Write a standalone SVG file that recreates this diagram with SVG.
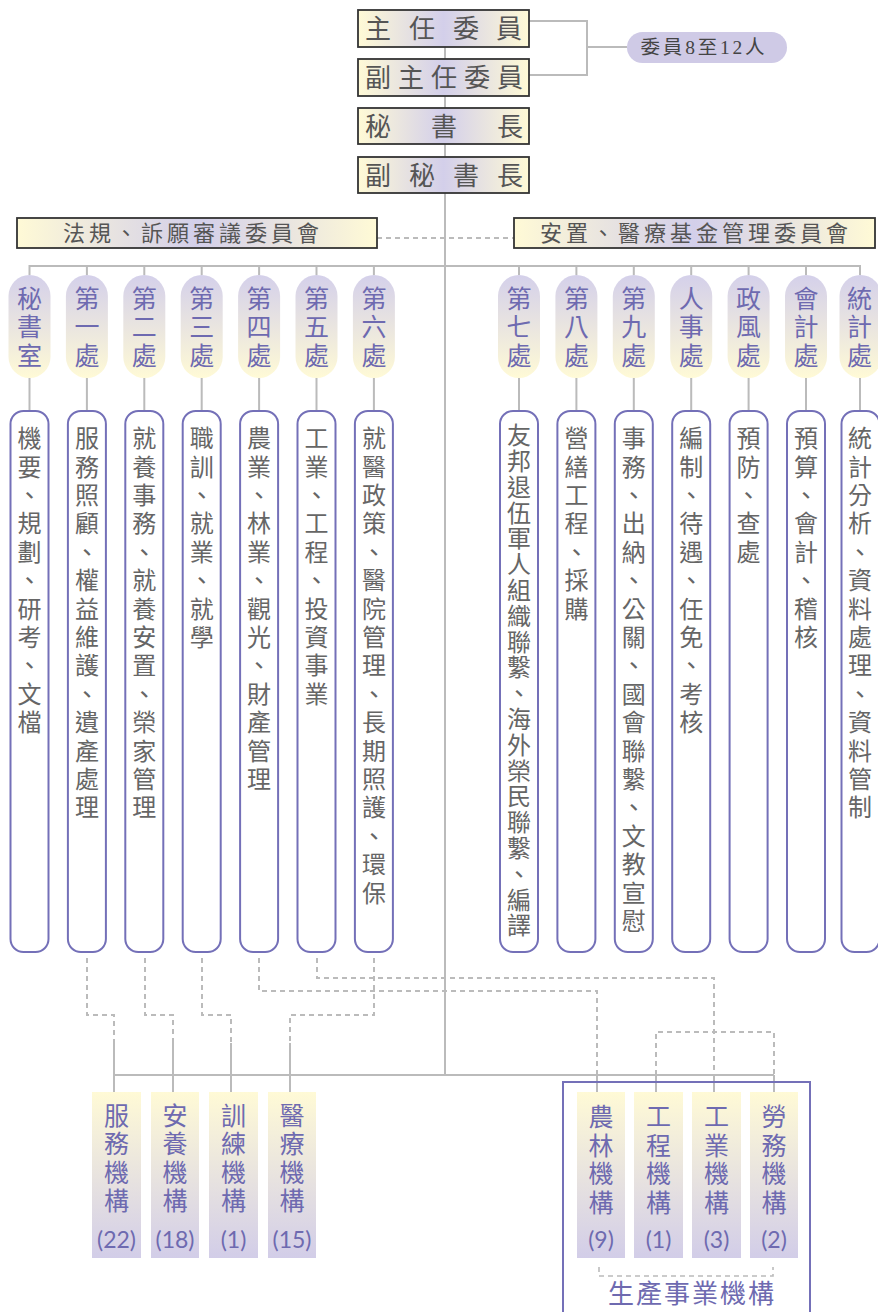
<svg xmlns="http://www.w3.org/2000/svg" width="878" height="1312" viewBox="0 0 878 1312">
<defs>
<linearGradient id="hg" x1="0" y1="0" x2="1" y2="0">
<stop offset="0" stop-color="#fffad6"/><stop offset="0.5" stop-color="#d3cfea"/><stop offset="1" stop-color="#fffad6"/>
</linearGradient>
<linearGradient id="tg" x1="0" y1="0" x2="0" y2="1">
<stop offset="0" stop-color="#d4d0ea"/><stop offset="1" stop-color="#fffad6"/>
</linearGradient>
<linearGradient id="bg" x1="0" y1="0" x2="0" y2="1">
<stop offset="0" stop-color="#fffad6"/><stop offset="1" stop-color="#d2cde8"/>
</linearGradient>
</defs>
<style>
.ln{fill:none;stroke:#bbbbbb;stroke-width:2}
.ds{fill:none;stroke:#bbbbbb;stroke-width:2;stroke-dasharray:5 4}
.top{fill:url(#hg);stroke:#333;stroke-width:1.8}
.tt{font-family:"Noto Sans CJK TC","Noto Sans CJK SC",sans-serif;font-size:26px;fill:#555;text-anchor:middle}
.ct{font-family:"Noto Sans CJK TC",sans-serif;font-size:22px;fill:#555;letter-spacing:4px}
.tab{fill:url(#tg)}
.v{writing-mode:vertical-rl;font-family:"Noto Sans CJK TC",sans-serif}
.tabt{font-size:25px;fill:#6e6ab0}
.col{fill:#fff;stroke:#7470b8;stroke-width:2}
.colt{font-size:24px;fill:#666}
.bx{fill:url(#bg)}
.bt{font-size:25px;fill:#6e6ab0}
.num{font-family:Lato,"Open Sans",sans-serif;font-size:23px;fill:#6e6ab0;text-anchor:middle}
</style>
<g id="connectors">
<path class="ln" d="M445 47 V1075"/>
<path class="ln" d="M529 21 H587 V75 H529 M587 47 H627"/>
<path class="ds" d="M377 238 H514"/>
<path class="ln" d="M29.5 275 V266 H860 V275"/>
<path class="ln" d="M86.9 266 V275 M144.3 266 V275 M201.7 266 V275 M259.1 266 V275 M316.5 266 V275 M373.9 266 V275 M519 266 V275 M576.4 266 V275 M633.8 266 V275 M691.2 266 V275 M748.6 266 V275 M806 266 V275"/>
<path class="ln" d="M29.5 378 V411 M86.9 378 V411 M144.3 378 V411 M201.7 378 V411 M259.1 378 V411 M316.5 378 V411 M373.9 378 V411 M519 378 V411 M576.4 378 V411 M633.8 378 V411 M691.2 378 V411 M748.6 378 V411 M806 378 V411 M860 378 V411"/>
<path class="ds" d="M87 958 V1015 H114 V1043"/>
<path class="ds" d="M145 958 V1015 H173 V1043"/>
<path class="ds" d="M202 958 V1015 H231 V1043"/>
<path class="ds" d="M374 958 V1015 H290 V1043"/>
<path class="ds" d="M259 958 V991 H597 V1075"/>
<path class="ds" d="M317 958 V978 H714 V1075"/>
<path class="ds" d="M656 1075 V1032 H774 V1075"/>
<path class="ln" d="M114 1075 H774"/>
<path class="ln" d="M114 1043 V1092 M173 1043 V1092 M231 1043 V1092 M290 1043 V1092 M597 1075 V1092 M656 1075 V1092 M714 1075 V1092 M774 1075 V1092"/>
<path class="ds" style="stroke-width:1.6" d="M599 1267 V1276 H773 V1267"/>
</g>
<g id="n-chair"><rect class="top" x="358" y="10" width="171" height="37"/><text class="tt" x="378 422 466 509" y="38">主任委員</text></g>
<g id="n-vice"><rect class="top" x="358" y="59" width="171" height="37"/><text class="tt" x="378 411 444 477 510" y="87">副主任委員</text></g>
<g id="n-sec"><rect class="top" x="358" y="108" width="171" height="36"/><text class="tt" x="378 444 510" y="136">秘書長</text></g>
<g id="n-dsec"><rect class="top" x="358" y="157" width="171" height="36"/><text class="tt" x="378 422 466 510" y="185">副秘書長</text></g>
<g id="n-members"><rect x="627" y="32" width="160" height="31" rx="15.5" fill="#cfcae6"/><text x="704" y="54" font-family="'Liberation Serif','Noto Sans CJK TC',serif" font-size="19.5" fill="#444" letter-spacing="2.8" text-anchor="middle">委員8至12人</text></g>
<g id="n-law"><rect class="top" x="17" y="218" width="360" height="30"/><text class="ct" x="63" y="241">法規、訴願審議委員會</text></g>
<g id="n-fund"><rect class="top" x="514" y="218" width="361" height="30"/><text class="ct" x="540" y="241">安置、醫療基金管理委員會</text></g>
<g id="tabs">
<g id="t1"><rect class="tab" x="8.5" y="275" width="42" height="103" rx="21"/><text class="v tabt" x="29.5"><tspan y="285.5">秘</tspan><tspan y="314">書</tspan><tspan y="342.5">室</tspan></text></g>
<g id="t2"><rect class="tab" x="65.9" y="275" width="42" height="103" rx="21"/><text class="v tabt" x="86.9"><tspan y="285.5">第</tspan><tspan y="314">一</tspan><tspan y="342.5">處</tspan></text></g>
<g id="t3"><rect class="tab" x="123.3" y="275" width="42" height="103" rx="21"/><text class="v tabt" x="144.3"><tspan y="285.5">第</tspan><tspan y="314">二</tspan><tspan y="342.5">處</tspan></text></g>
<g id="t4"><rect class="tab" x="180.7" y="275" width="42" height="103" rx="21"/><text class="v tabt" x="201.7"><tspan y="285.5">第</tspan><tspan y="314">三</tspan><tspan y="342.5">處</tspan></text></g>
<g id="t5"><rect class="tab" x="238.1" y="275" width="42" height="103" rx="21"/><text class="v tabt" x="259.1"><tspan y="285.5">第</tspan><tspan y="314">四</tspan><tspan y="342.5">處</tspan></text></g>
<g id="t6"><rect class="tab" x="295.5" y="275" width="42" height="103" rx="21"/><text class="v tabt" x="316.5"><tspan y="285.5">第</tspan><tspan y="314">五</tspan><tspan y="342.5">處</tspan></text></g>
<g id="t7"><rect class="tab" x="352.9" y="275" width="42" height="103" rx="21"/><text class="v tabt" x="373.9"><tspan y="285.5">第</tspan><tspan y="314">六</tspan><tspan y="342.5">處</tspan></text></g>
<g id="t8"><rect class="tab" x="498" y="275" width="42" height="103" rx="21"/><text class="v tabt" x="519"><tspan y="285.5">第</tspan><tspan y="314">七</tspan><tspan y="342.5">處</tspan></text></g>
<g id="t9"><rect class="tab" x="555.4" y="275" width="42" height="103" rx="21"/><text class="v tabt" x="576.4"><tspan y="285.5">第</tspan><tspan y="314">八</tspan><tspan y="342.5">處</tspan></text></g>
<g id="t10"><rect class="tab" x="612.8" y="275" width="42" height="103" rx="21"/><text class="v tabt" x="633.8"><tspan y="285.5">第</tspan><tspan y="314">九</tspan><tspan y="342.5">處</tspan></text></g>
<g id="t11"><rect class="tab" x="670.2" y="275" width="42" height="103" rx="21"/><text class="v tabt" x="691.2"><tspan y="285.5">人</tspan><tspan y="314">事</tspan><tspan y="342.5">處</tspan></text></g>
<g id="t12"><rect class="tab" x="727.6" y="275" width="42" height="103" rx="21"/><text class="v tabt" x="748.6"><tspan y="285.5">政</tspan><tspan y="314">風</tspan><tspan y="342.5">處</tspan></text></g>
<g id="t13"><rect class="tab" x="785" y="275" width="42" height="103" rx="21"/><text class="v tabt" x="806"><tspan y="285.5">會</tspan><tspan y="314">計</tspan><tspan y="342.5">處</tspan></text></g>
<g id="t14"><rect class="tab" x="839.5" y="275" width="42" height="103" rx="21"/><text class="v tabt" x="859.5"><tspan y="285.5">統</tspan><tspan y="314">計</tspan><tspan y="342.5">處</tspan></text></g>
</g>
<g id="cols">
<g id="c1"><rect class="col" x="10.5" y="411" width="38" height="541" rx="13"/><text class="v colt" x="29.5"><tspan y="426">機</tspan><tspan y="454.4">要</tspan><tspan y="482.8">、</tspan><tspan y="511.2">規</tspan><tspan y="539.6">劃</tspan><tspan y="568">、</tspan><tspan y="596.4">研</tspan><tspan y="624.8">考</tspan><tspan y="653.2">、</tspan><tspan y="681.6">文</tspan><tspan y="710">檔</tspan></text></g>
<g id="c2"><rect class="col" x="67.9" y="411" width="38" height="541" rx="13"/><text class="v colt" x="86.9"><tspan y="426">服</tspan><tspan y="454.4">務</tspan><tspan y="482.8">照</tspan><tspan y="511.2">顧</tspan><tspan y="539.6">、</tspan><tspan y="568">權</tspan><tspan y="596.4">益</tspan><tspan y="624.8">維</tspan><tspan y="653.2">護</tspan><tspan y="681.6">、</tspan><tspan y="710">遺</tspan><tspan y="738.4">產</tspan><tspan y="766.8">處</tspan><tspan y="795.2">理</tspan></text></g>
<g id="c3"><rect class="col" x="125.3" y="411" width="38" height="541" rx="13"/><text class="v colt" x="144.3"><tspan y="426">就</tspan><tspan y="454.4">養</tspan><tspan y="482.8">事</tspan><tspan y="511.2">務</tspan><tspan y="539.6">、</tspan><tspan y="568">就</tspan><tspan y="596.4">養</tspan><tspan y="624.8">安</tspan><tspan y="653.2">置</tspan><tspan y="681.6">、</tspan><tspan y="710">榮</tspan><tspan y="738.4">家</tspan><tspan y="766.8">管</tspan><tspan y="795.2">理</tspan></text></g>
<g id="c4"><rect class="col" x="182.7" y="411" width="38" height="541" rx="13"/><text class="v colt" x="201.7"><tspan y="426">職</tspan><tspan y="454.4">訓</tspan><tspan y="482.8">、</tspan><tspan y="511.2">就</tspan><tspan y="539.6">業</tspan><tspan y="568">、</tspan><tspan y="596.4">就</tspan><tspan y="624.8">學</tspan></text></g>
<g id="c5"><rect class="col" x="240.1" y="411" width="38" height="541" rx="13"/><text class="v colt" x="259.1"><tspan y="426">農</tspan><tspan y="454.4">業</tspan><tspan y="482.8">、</tspan><tspan y="511.2">林</tspan><tspan y="539.6">業</tspan><tspan y="568">、</tspan><tspan y="596.4">觀</tspan><tspan y="624.8">光</tspan><tspan y="653.2">、</tspan><tspan y="681.6">財</tspan><tspan y="710">產</tspan><tspan y="738.4">管</tspan><tspan y="766.8">理</tspan></text></g>
<g id="c6"><rect class="col" x="297.5" y="411" width="38" height="541" rx="13"/><text class="v colt" x="316.5"><tspan y="426">工</tspan><tspan y="454.4">業</tspan><tspan y="482.8">、</tspan><tspan y="511.2">工</tspan><tspan y="539.6">程</tspan><tspan y="568">、</tspan><tspan y="596.4">投</tspan><tspan y="624.8">資</tspan><tspan y="653.2">事</tspan><tspan y="681.6">業</tspan></text></g>
<g id="c7"><rect class="col" x="354.9" y="411" width="38" height="541" rx="13"/><text class="v colt" x="373.9"><tspan y="426">就</tspan><tspan y="454.4">醫</tspan><tspan y="482.8">政</tspan><tspan y="511.2">策</tspan><tspan y="539.6">、</tspan><tspan y="568">醫</tspan><tspan y="596.4">院</tspan><tspan y="624.8">管</tspan><tspan y="653.2">理</tspan><tspan y="681.6">、</tspan><tspan y="710">長</tspan><tspan y="738.4">期</tspan><tspan y="766.8">照</tspan><tspan y="795.2">護</tspan><tspan y="823.6">、</tspan><tspan y="852">環</tspan><tspan y="880.4">保</tspan></text></g>
<g id="c8"><rect class="col" x="500" y="411" width="38" height="541" rx="13"/><text class="v colt" x="519"><tspan y="423">友</tspan><tspan y="448.8">邦</tspan><tspan y="474.6">退</tspan><tspan y="500.4">伍</tspan><tspan y="526.2">軍</tspan><tspan y="552">人</tspan><tspan y="577.8">組</tspan><tspan y="603.6">織</tspan><tspan y="629.4">聯</tspan><tspan y="655.2">繫</tspan><tspan y="681">、</tspan><tspan y="706.8">海</tspan><tspan y="732.6">外</tspan><tspan y="758.4">榮</tspan><tspan y="784.2">民</tspan><tspan y="810">聯</tspan><tspan y="835.8">繫</tspan><tspan y="861.6">、</tspan><tspan y="887.4">編</tspan><tspan y="913.2">譯</tspan></text></g>
<g id="c9"><rect class="col" x="557.4" y="411" width="38" height="541" rx="13"/><text class="v colt" x="576.4"><tspan y="426">營</tspan><tspan y="454.4">繕</tspan><tspan y="482.8">工</tspan><tspan y="511.2">程</tspan><tspan y="539.6">、</tspan><tspan y="568">採</tspan><tspan y="596.4">購</tspan></text></g>
<g id="c10"><rect class="col" x="614.8" y="411" width="38" height="541" rx="13"/><text class="v colt" x="633.8"><tspan y="426">事</tspan><tspan y="454.4">務</tspan><tspan y="482.8">、</tspan><tspan y="511.2">出</tspan><tspan y="539.6">納</tspan><tspan y="568">、</tspan><tspan y="596.4">公</tspan><tspan y="624.8">關</tspan><tspan y="653.2">、</tspan><tspan y="681.6">國</tspan><tspan y="710">會</tspan><tspan y="738.4">聯</tspan><tspan y="766.8">繫</tspan><tspan y="795.2">、</tspan><tspan y="823.6">文</tspan><tspan y="852">教</tspan><tspan y="880.4">宣</tspan><tspan y="908.8">慰</tspan></text></g>
<g id="c11"><rect class="col" x="672.2" y="411" width="38" height="541" rx="13"/><text class="v colt" x="691.2"><tspan y="426">編</tspan><tspan y="454.4">制</tspan><tspan y="482.8">、</tspan><tspan y="511.2">待</tspan><tspan y="539.6">遇</tspan><tspan y="568">、</tspan><tspan y="596.4">任</tspan><tspan y="624.8">免</tspan><tspan y="653.2">、</tspan><tspan y="681.6">考</tspan><tspan y="710">核</tspan></text></g>
<g id="c12"><rect class="col" x="729.6" y="411" width="38" height="541" rx="13"/><text class="v colt" x="748.6"><tspan y="426">預</tspan><tspan y="454.4">防</tspan><tspan y="482.8">、</tspan><tspan y="511.2">查</tspan><tspan y="539.6">處</tspan></text></g>
<g id="c13"><rect class="col" x="787" y="411" width="38" height="541" rx="13"/><text class="v colt" x="806"><tspan y="426">預</tspan><tspan y="454.4">算</tspan><tspan y="482.8">、</tspan><tspan y="511.2">會</tspan><tspan y="539.6">計</tspan><tspan y="568">、</tspan><tspan y="596.4">稽</tspan><tspan y="624.8">核</tspan></text></g>
<g id="c14"><rect class="col" x="841.5" y="411" width="38" height="541" rx="13"/><text class="v colt" x="860"><tspan y="426">統</tspan><tspan y="454.4">計</tspan><tspan y="482.8">分</tspan><tspan y="511.2">析</tspan><tspan y="539.6">、</tspan><tspan y="568">資</tspan><tspan y="596.4">料</tspan><tspan y="624.8">處</tspan><tspan y="653.2">理</tspan><tspan y="681.6">、</tspan><tspan y="710">資</tspan><tspan y="738.4">料</tspan><tspan y="766.8">管</tspan><tspan y="795.2">制</tspan></text></g>
</g>
<g id="bottom">
<g id="b1"><rect class="bx" x="92" y="1092" width="49" height="166"/><text class="v bt" x="116.5"><tspan y="1102.5">服</tspan><tspan y="1131">務</tspan><tspan y="1159.5">機</tspan><tspan y="1188">構</tspan></text><text class="num" x="116.5" y="1248">(22)</text></g>
<g id="b2"><rect class="bx" x="151" y="1092" width="48" height="166"/><text class="v bt" x="175"><tspan y="1102.5">安</tspan><tspan y="1131">養</tspan><tspan y="1159.5">機</tspan><tspan y="1188">構</tspan></text><text class="num" x="175" y="1248">(18)</text></g>
<g id="b3"><rect class="bx" x="209" y="1092" width="49" height="166"/><text class="v bt" x="233.5"><tspan y="1102.5">訓</tspan><tspan y="1131">練</tspan><tspan y="1159.5">機</tspan><tspan y="1188">構</tspan></text><text class="num" x="233.5" y="1248">(1)</text></g>
<g id="b4"><rect class="bx" x="268" y="1092" width="48" height="166"/><text class="v bt" x="292"><tspan y="1102.5">醫</tspan><tspan y="1131">療</tspan><tspan y="1159.5">機</tspan><tspan y="1188">構</tspan></text><text class="num" x="292" y="1248">(15)</text></g>
<g id="prod"><rect x="563" y="1082" width="247" height="240" fill="none" stroke="#7470b8" stroke-width="2"/>
<text x="692" y="1303" font-family="'Noto Sans CJK TC',sans-serif" font-size="26" fill="#6e6ab0" letter-spacing="2" text-anchor="middle">生產事業機構</text></g>
<g id="b5"><rect class="bx" x="577" y="1092" width="48" height="166"/><text class="v bt" x="601"><tspan y="1104">農</tspan><tspan y="1132.5">林</tspan><tspan y="1161">機</tspan><tspan y="1189.5">構</tspan></text><text class="num" x="601" y="1248">(9)</text></g>
<g id="b6"><rect class="bx" x="634" y="1092" width="49" height="166"/><text class="v bt" x="658.5"><tspan y="1104">工</tspan><tspan y="1132.5">程</tspan><tspan y="1161">機</tspan><tspan y="1189.5">構</tspan></text><text class="num" x="658.5" y="1248">(1)</text></g>
<g id="b7"><rect class="bx" x="692" y="1092" width="49" height="166"/><text class="v bt" x="716.5"><tspan y="1104">工</tspan><tspan y="1132.5">業</tspan><tspan y="1161">機</tspan><tspan y="1189.5">構</tspan></text><text class="num" x="716.5" y="1248">(3)</text></g>
<g id="b8"><rect class="bx" x="750" y="1092" width="48" height="166"/><text class="v bt" x="774"><tspan y="1104">勞</tspan><tspan y="1132.5">務</tspan><tspan y="1161">機</tspan><tspan y="1189.5">構</tspan></text><text class="num" x="774" y="1248">(2)</text></g>
</g>
</svg>
